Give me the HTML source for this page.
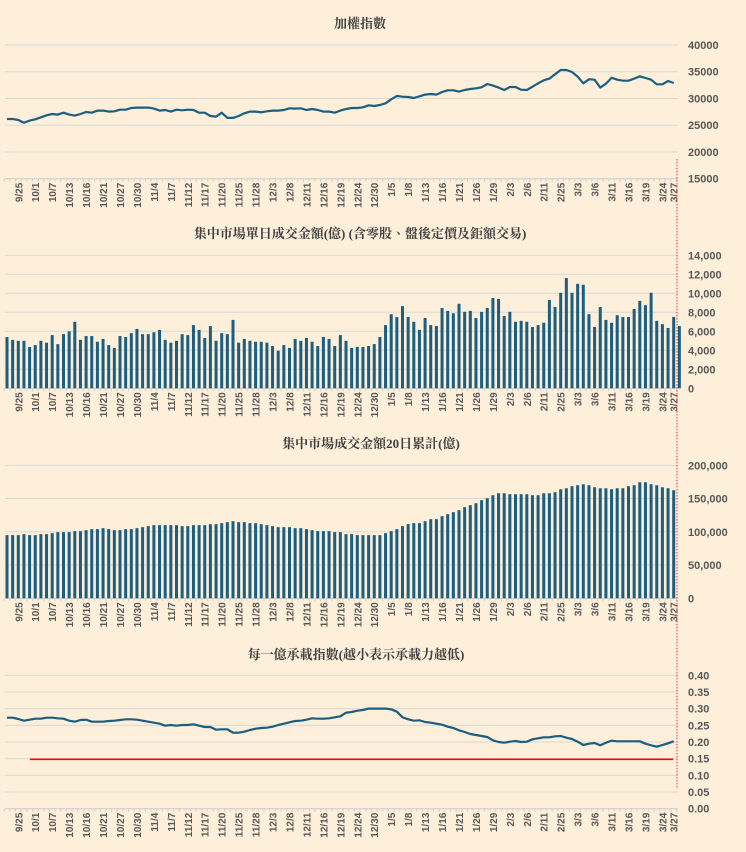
<!DOCTYPE html>
<html><head><meta charset="utf-8">
<style>
html,body{margin:0;padding:0;background:#fdefd9;}
svg{display:block;}
.t{font-family:"Liberation Serif","Noto Serif CJK TC",serif;font-weight:bold;font-size:13px;fill:#404040;}
.yl{font-family:"Liberation Sans",sans-serif;font-weight:bold;font-size:11px;fill:#595959;}
.xl{font-family:"Liberation Sans",sans-serif;font-weight:bold;font-size:10px;fill:#595959;}
</style></head>
<body>
<svg id="chart" width="746" height="852" viewBox="0 0 746 852" xmlns="http://www.w3.org/2000/svg">
<rect width="746" height="852" fill="#fdefd9"/>
<text class="t" x="360" y="28" text-anchor="middle">加權指數</text>
<text class="t" x="360" y="238" text-anchor="middle">集中市場單日成交金額(億) (含零股、盤後定價及鉅額交易)</text>
<text class="t" x="371" y="448" text-anchor="middle">集中市場成交金額20日累計(億)</text>
<text class="t" x="356" y="659" text-anchor="middle">每一億承載指數(越小表示承載力越低)</text>
<g id="g"></g>
</svg>
<script>
const dateLabels=["9/25","10/1","10/7","10/13","10/16","10/21","10/27","10/30","11/4","11/7","11/12","11/17","11/20","11/25","11/28","12/3","12/8","12/11","12/16","12/19","12/24","12/30","1/5","1/8","1/13","1/16","1/21","1/26","1/29","2/3","2/6","2/11","2/25","3/3","3/6","3/11","3/16","3/19","3/24","3/27"];
const indexValues=[26170,26170,25980,25480,25860,26110,26480,26850,27100,26980,27350,26980,26790,27100,27480,27350,27730,27730,27540,27600,27910,27910,28220,28290,28290,28290,28100,27730,27850,27540,27910,27790,27910,27850,27350,27350,26730,26610,27350,26360,26360,26730,27230,27540,27540,27420,27600,27730,27730,27850,28160,28100,28160,27850,28040,27850,27540,27540,27350,27730,28040,28220,28220,28350,28720,28600,
28790,29100,29850,30470,30340,30280,30090,30410,30720,30840,30720,31220,31530,31530,31280,31590,31780,31900,32090,32710,32400,32030,31590,32150,32150,31650,31590,32210,32840,33400,33710,34520,35330,35330,34950,34080,32840,33580,33520,32030,32770,33890,33520,33330,33330,33710,34140,33830,33520,32650,32650,33270,32900];
const dailyVolume=[5.4,5.1,5.0,5.0,4.35,4.55,5.0,4.8,5.6,4.65,5.7,6.0,7.0,5.1,5.5,5.5,4.9,5.2,4.55,4.25,5.5,5.4,5.8,6.25,5.7,5.7,5.9,6.15,5.1,4.8,5.0,5.7,5.6,6.65,6.15,5.3,6.55,5.0,5.8,5.7,7.2,4.8,5.2,5.0,4.9,4.9,4.8,4.45,3.95,4.55,4.25,5.2,5.0,5.3,4.9,4.45,5.4,5.2,4.45,5.6,5.0,4.25,4.35,4.35,4.45,4.65,
5.4,6.65,7.8,7.5,8.65,7.5,7.0,6.15,7.4,6.65,6.55,8.45,8.15,7.9,8.9,8.05,8.15,7.4,8.05,8.45,9.5,9.4,7.6,8.05,7.0,7.1,7.0,6.45,6.65,6.9,9.3,8.55,10.05,11.6,10.05,11.0,10.9,7.8,6.45,8.55,7.2,6.9,7.7,7.5,7.5,8.35,9.2,8.75,10.05,7.1,6.75,6.35,7.5,6.55].map(v=>v*1000);
const volume20dTops=[240,240,240,237,240,240,237,237,234,231,231,231,228,228,225,222,222,219,222,225,225,222,222,219,216,213,210,210,210,210,210,213,213,210,210,210,207,207,204,201,198,201,201,204,204,207,210,213,216,216,216,219,219,222,225,228,228,228,231,231,237,237,240,240,240,240,
240,234,228,222,213,207,204,204,198,192,192,183,177,171,165,156,150,144,135,129,120,114,114,117,117,117,117,120,120,114,114,111,102,99,93,90,87,90,96,99,99,102,99,99,93,90,81,81,87,90,96,99,105];
const volume20d=volume20dTops.map(y=>(430-y)*500);
const loadTops=[158,158,162,167,164,161,161,158,158,160,161,167,170,165,164,170,170,170,168,167,165,163,163,164,167,170,173,176,182,180,182,180,180,178,182,186,186,194,193,193,203,203,200,195,191,189,188,185,180,176,172,168,167,164,160,161,161,160,157,154,143,141,137,135,131,131,
131,131,133,140,157,163,167,166,171,173,176,179,185,189,196,201,207,210,213,216,226,231,233,230,228,231,230,223,220,217,217,214,213,218,222,230,240,236,234,241,233,227,229,229,229,229,229,236,241,245,240,235,229];
const loadIndex=loadTops.map(y=>(431-y)/1000);
const threshold=0.148;
const ticks1=[15000,20000,25000,30000,35000,40000];
const ticks2=[0,2000,4000,6000,8000,10000,12000,14000];
const ticks3=[0,50000,100000,150000,200000];
const ticks4=[0,0.05,0.10,0.15,0.20,0.25,0.30,0.35,0.40];

const NS="http://www.w3.org/2000/svg";
const g=document.getElementById('g');
function mk(tag,attrs,parent){const e=document.createElementNS(NS,tag);for(const k in attrs)e.setAttribute(k,attrs[k]);(parent||g).appendChild(e);return e;}
const N=119,X0=7,XS=5.65,PL=5,PR=678;
function xAt(i){return X0+XS*i;}
function yScale(min,max,y0,y1){return v=>y0+(v-min)/(max-min)*(y1-y0);}
function frame(name,ticks,ys,fmt,axisY){
  ticks.forEach((t,i)=>{
    const y=ys(t);
    if(i>0){const l=mk('line',{x1:PL,x2:PR,y1:y,y2:y,stroke:'#d9d9d9','stroke-width':1});
      
      }
    const tx=mk('text',{x:688,y:y+4,class:'yl'});tx.textContent=fmt(t);
    
    
  });
  const ax=mk('line',{x1:PL,x2:PR,y1:axisY,y2:axisY,stroke:'#d0d0d0','stroke-width':1.2});
  
  
  for(let i=0;i<=N;i++){const xx=xAt(i)-XS/2;
    const tk=mk('line',{x1:xx,x2:xx,y1:axisY,y2:axisY+3,stroke:'#d0d0d0','stroke-width':1});
    
    }
  dateLabels.forEach((d,i)=>{
    const idx=Math.min(2+3*i,N-1);const x=xAt(idx)+4,y=axisY+4;
    const t=mk('text',{x:x,y:y,class:'xl','text-anchor':'end',transform:`rotate(-90 ${x} ${y})`});t.textContent=d;
    
    
  });
}
function line(name,vals,ys){
  const pts=vals.map((v,i)=>xAt(i).toFixed(1)+','+ys(v).toFixed(1)).join(' ');
  const p=mk('polyline',{points:pts,fill:'none',stroke:'#1b5e80','stroke-width':2.2,'stroke-linejoin':'round'});
  
  
}
function bars(name,vals,ys,base){
  vals.forEach((v,i)=>{const y=ys(v);
    const r=mk('rect',{x:xAt(i)-1.5,y:y,width:3,height:base-y,fill:'#1b5e80'});
    
    });
}
const fmtC=v=>v.toLocaleString('en-US');
const y1=yScale(15000,40000,178.7,45);
frame('index-chart',ticks1,y1,v=>String(v),178.7);
line('index-line',indexValues,y1);
const y2=yScale(0,14000,388.3,255.3);
frame('daily-volume-chart',ticks2,y2,fmtC,388.3);
bars('daily-volume-bar',dailyVolume,y2,388.3);
const y3=yScale(0,200000,598.3,465.3);
frame('volume-20d-chart',ticks3,y3,fmtC,598.3);
bars('volume-20d-bar',volume20d,y3,598.3);
const y4=yScale(0,0.4,808.7,675.3);
frame('load-index-chart',ticks4,y4,v=>v.toFixed(2),808.7);
const th=mk('line',{x1:30,x2:673,y1:y4(threshold),y2:y4(threshold),stroke:'#ff0000','stroke-width':1.6});


line('load-index-line',loadIndex,y4);
const dv=mk('line',{x1:677,x2:677,y1:159,y2:788,stroke:'#ff3030','stroke-width':1,'stroke-dasharray':'1.5,1.5'});


</script>
</body></html>
